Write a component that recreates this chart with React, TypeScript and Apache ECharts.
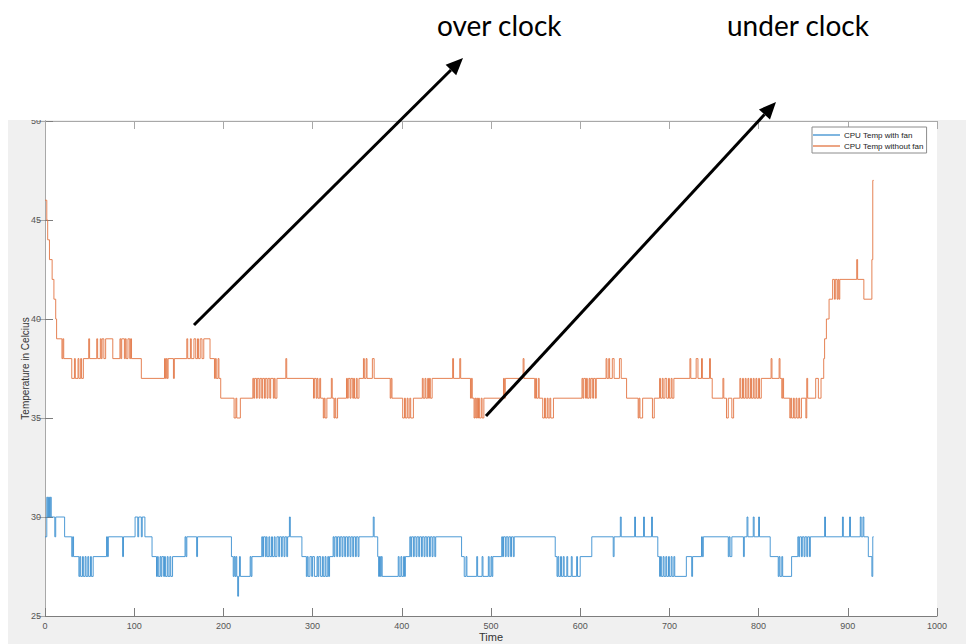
import React, { useEffect, useRef } from "react";
import * as echarts from "echarts";

// Change points [time, temperature] (value holds until the next point)
const withFan: [number, number][] = [
  [0, 29], [2, 31], [3, 30], [4, 31], [5, 30], [6, 31], [7, 30], [11, 29], [12, 30], [22, 29],
  [30, 28], [31, 29], [32, 28], [38, 27], [39, 28], [40, 27], [42, 28], [43, 27], [45, 28], [46, 27],
  [48, 28], [49, 27], [51, 28], [52, 27], [54, 28], [69, 29], [70, 28], [71, 29], [87, 28], [88, 29],
  [101, 30], [104, 29], [105, 30], [108, 29], [109, 30], [112, 29], [120, 28], [125, 27], [126, 28],
  [127, 27], [129, 28], [130, 27], [131, 28], [133, 27], [134, 28], [135, 27], [137, 28], [138, 27],
  [140, 28], [141, 27], [143, 28], [157, 29], [158, 28], [159, 29], [170, 28], [171, 29],
  [209, 28], [211, 27], [212, 28], [213, 27], [214, 28], [215, 27], [216, 26], [217, 27], [218, 28],
  [219, 27], [230, 28], [231, 27], [232, 28],
  [243, 29], [244, 28], [245, 29], [247, 28], [248, 29], [249, 28], [251, 29], [252, 28], [254, 29],
  [255, 28], [257, 29], [258, 28], [260, 29], [262, 28], [263, 29], [265, 28], [266, 29], [268, 28],
  [269, 29], [271, 28], [272, 29], [274, 30], [275, 29], [288, 28],
  [293, 27], [294, 28], [295, 27], [297, 28], [299, 27], [300, 28], [302, 27], [305, 28], [306, 27],
  [307, 28], [309, 27], [311, 28], [312, 27], [314, 28], [315, 27], [317, 28], [318, 27], [319, 28],
  [323, 29], [324, 28], [325, 29], [327, 28], [328, 29], [330, 28], [331, 29], [333, 28], [334, 29],
  [336, 28], [337, 29], [339, 28], [340, 29], [342, 28], [343, 29], [345, 28], [346, 29], [348, 28],
  [349, 29], [351, 28], [352, 29], [368, 30], [369, 29],
  [373, 28], [374, 27], [375, 28], [376, 27], [377, 28], [378, 27], [396, 28], [397, 27], [399, 28],
  [400, 27], [402, 28], [403, 27], [404, 28],
  [409, 29], [410, 28], [411, 29], [413, 28], [414, 29], [416, 28], [417, 29], [419, 28], [420, 29],
  [422, 28], [423, 29], [425, 28], [426, 29], [428, 28], [429, 29], [431, 28], [432, 29], [434, 28],
  [435, 29], [437, 28], [438, 29],
  [467, 28], [470, 27], [472, 28], [473, 27], [484, 28], [485, 27], [490, 28], [491, 27], [497, 28],
  [498, 27], [500, 28], [501, 27], [502, 28],
  [512, 29], [513, 28], [514, 29], [516, 28], [517, 29], [519, 28], [520, 29], [522, 28], [523, 29],
  [525, 28], [526, 29],
  [572, 28], [574, 27], [575, 28], [576, 27], [578, 28], [579, 27], [581, 28], [582, 27], [585, 28],
  [586, 27], [590, 28], [591, 27], [596, 28], [597, 27], [600, 28],
  [613, 29], [637, 28], [638, 29], [645, 30], [646, 29], [661, 30], [662, 29], [671, 30], [672, 29],
  [680, 30], [681, 29],
  [687, 28], [689, 27], [690, 28], [691, 27], [693, 28], [694, 27], [696, 28], [697, 27], [699, 28],
  [700, 27], [702, 28], [703, 27], [705, 28], [706, 27], [719, 28], [725, 27], [726, 28],
  [736, 29], [737, 28], [738, 29], [766, 28], [767, 29], [768, 28], [770, 29], [783, 28], [784, 29],
  [787, 30], [788, 29], [794, 30], [795, 29], [800, 30], [801, 29],
  [813, 28], [822, 27], [823, 28], [824, 27], [826, 28], [827, 27], [837, 28],
  [844, 29], [845, 28], [846, 29], [848, 28], [849, 29], [851, 28], [852, 29], [854, 28], [855, 29],
  [857, 28], [858, 29], [874, 30], [875, 29], [894, 30], [895, 29], [902, 30], [903, 29],
  [914, 30], [915, 29], [917, 30], [918, 29], [923, 28], [927, 27], [928, 29], [929, 29],
];

const withoutFan: [number, number][] = [
  [0, 46], [2, 45], [3, 44], [5, 43], [8, 42], [10, 41], [12, 40], [13, 39], [19, 38], [20, 39],
  [21, 38], [30, 37], [33, 38], [34, 37], [37, 38], [38, 37], [40, 38], [41, 37], [43, 38],
  [49, 39], [50, 38], [58, 39], [59, 38], [62, 39], [63, 38], [64, 39], [66, 38], [68, 39], [76, 38],
  [84, 39], [85, 38], [86, 39], [89, 38], [90, 39], [91, 38], [93, 39], [95, 38], [96, 39], [97, 38],
  [108, 37], [134, 38], [135, 37], [136, 38], [137, 37], [138, 38], [144, 37], [145, 38],
  [159, 39], [160, 38], [163, 39], [164, 38], [167, 39], [169, 38], [171, 39], [172, 38], [174, 39],
  [176, 38], [178, 39], [185, 38], [190, 37], [191, 38], [192, 37], [194, 38], [195, 37], [197, 36],
  [212, 35], [214, 36], [215, 35], [219, 36],
  [233, 37], [234, 36], [235, 37], [237, 36], [238, 37], [240, 36], [241, 37], [243, 36], [244, 37],
  [246, 36], [247, 37], [249, 36], [250, 37], [252, 36], [253, 37], [256, 36], [257, 37], [258, 36],
  [260, 37], [270, 38], [271, 37],
  [301, 36], [302, 37], [304, 36], [305, 37], [306, 36], [308, 37], [309, 36], [312, 35], [313, 36],
  [314, 35], [316, 36], [321, 37], [322, 36], [324, 35], [325, 36], [326, 35], [328, 36],
  [338, 37], [339, 36], [340, 37], [342, 36], [343, 37], [345, 36], [346, 37], [347, 36], [349, 37],
  [350, 36], [352, 37], [357, 38], [358, 37], [360, 38], [361, 37], [367, 38], [369, 37],
  [387, 36], [388, 37], [389, 36], [401, 35], [403, 36], [404, 35], [406, 36], [407, 35], [409, 36],
  [410, 35], [413, 36], [423, 37], [424, 36], [426, 37], [427, 36], [429, 37], [430, 36], [431, 37],
  [432, 36], [434, 37], [457, 38], [458, 37], [465, 38], [466, 37],
  [477, 36], [478, 37], [479, 36], [481, 35], [482, 36], [483, 35], [484, 36], [485, 35], [486, 36],
  [487, 35], [489, 36], [490, 35], [492, 36], [514, 37], [515, 36], [516, 37], [536, 38], [537, 37],
  [549, 36], [550, 37], [551, 36], [553, 37], [554, 36], [558, 35], [560, 36], [561, 35], [563, 36],
  [564, 35], [566, 36], [567, 35], [570, 36],
  [602, 37], [603, 36], [604, 37], [606, 36], [607, 37], [608, 36], [610, 37], [611, 36], [612, 37],
  [614, 36], [615, 37], [617, 36], [618, 37], [629, 38], [630, 37], [632, 38], [633, 37], [636, 38],
  [638, 37], [644, 38], [646, 37], [652, 36], [665, 35], [666, 36], [667, 35], [670, 36], [681, 35],
  [683, 36], [689, 37], [690, 36], [692, 37], [693, 36], [695, 37], [697, 36], [699, 37], [700, 36],
  [702, 37], [703, 36], [705, 37], [723, 38], [724, 37], [730, 38], [732, 37], [736, 38], [737, 37],
  [745, 38], [746, 37], [748, 36], [760, 37], [761, 36], [764, 35], [766, 36], [770, 35], [772, 36],
  [779, 37], [780, 36], [782, 37], [783, 36], [785, 37], [786, 36], [788, 37], [789, 36], [791, 37],
  [792, 36], [794, 37], [795, 36], [797, 37], [798, 36], [800, 37], [801, 36], [803, 37],
  [814, 38], [815, 37], [823, 38], [824, 37], [826, 36], [827, 37], [828, 36], [835, 35], [836, 36],
  [837, 35], [839, 36], [840, 35], [842, 36], [843, 35], [845, 36], [846, 35], [848, 36], [853, 35],
  [854, 37], [855, 36], [864, 37], [867, 36], [870, 37], [873, 38], [874, 39], [876, 40], [879, 41],
  [883, 42], [885, 41], [886, 42], [888, 41], [889, 42], [890, 41], [891, 42], [910, 43], [911, 42],
  [918, 41], [927, 43], [928, 47], [929, 47],
];

const xTicks = { min: 0, max: 1000, interval: 100 };
const yTicks = { min: 25, max: 50, interval: 5 };
const seriesNames = ["CPU Temp with fan", "CPU Temp without fan"];
const annotations = ["over clock", "under clock"];

function arrow(x1: number, y1: number, x2: number, y2: number) {
  const dx = x2 - x1, dy = y2 - y1;
  const len = Math.sqrt(dx * dx + dy * dy);
  const ux = dx / len, uy = dy / len;
  const hl = 17, hw = 7.5;
  const bx = x2 - ux * hl, by = y2 - uy * hl;
  return [
    { type: "line", z: 101, shape: { x1, y1, x2: bx, y2: by }, style: { stroke: "#000", lineWidth: 3 } },
    {
      type: "polygon", z: 101,
      shape: { points: [[x2, y2], [bx - uy * hw, by + ux * hw], [bx + uy * hw, by - ux * hw]] },
      style: { fill: "#000" },
    },
  ];
}

export default function App() {
  const ref = useRef<HTMLDivElement>(null);
  useEffect(() => {
    if (!ref.current) return;
    const chart = echarts.init(ref.current, null, { renderer: "svg" });
    const axisColor = "#7d7d7d";
    const labelColor = "#555";
    const font = "Liberation Sans, Arial, sans-serif";
    chart.setOption({
      animation: false,
      backgroundColor: "#ffffff",
      textStyle: { fontFamily: font },
      grid: {
        left: 45, top: 121, width: 892, height: 495, show: true, backgroundColor: "#ffffff", borderWidth: 0,
        containLabel: false, outerBoundsMode: "none",
      },
      legend: {
        data: seriesNames,
        orient: "vertical",
        left: 812,
        top: 127,
        backgroundColor: "#ffffff",
        borderColor: "#8c8c8c",
        borderWidth: 1,
        padding: [4, 3, 3, 1],
        itemGap: 3,
        itemWidth: 27,
        itemHeight: 1.3,
        icon: "rect",
        textStyle: { fontSize: 8, color: "#222", fontFamily: font, padding: [0, 0, 0, -1] },
      },
      xAxis: [
        {
          type: "value", ...xTicks, name: "Time", nameLocation: "middle", nameGap: 15, nameMoveOverlap: false,
          nameTextStyle: { fontSize: 11, color: "#333" },
          axisLine: { lineStyle: { color: axisColor } },
          axisTick: { inside: true, length: 8, lineStyle: { color: axisColor } },
          axisLabel: { color: labelColor, fontSize: 9, margin: 5, formatter: (v: number) => String(v) },
          splitLine: { show: false },
        },
        {
          type: "value", ...xTicks, position: "top",
          axisLine: { lineStyle: { color: "#a8a8a8" } },
          axisTick: { inside: true, length: 8, lineStyle: { color: "#a8a8a8" } },
          axisLabel: { show: false },
          splitLine: { show: false },
        },
      ],
      yAxis: [
        {
          type: "value", ...yTicks, name: "Temperature in Celcius", nameLocation: "middle", nameGap: 15,
          nameMoveOverlap: false,
          nameTextStyle: { fontSize: 10, color: "#333" },
          axisLine: { lineStyle: { color: axisColor } },
          axisTick: { inside: true, length: 8, lineStyle: { color: axisColor } },
          axisLabel: { color: labelColor, fontSize: 9, margin: 4 },
          splitLine: { show: false },
        },
        {
          type: "value", ...yTicks, position: "right",
          axisLine: { lineStyle: { color: "#a8a8a8" } },
          axisTick: { inside: true, length: 8, lineStyle: { color: "#a8a8a8" } },
          axisLabel: { show: false },
          splitLine: { show: false },
        },
      ],
      series: [
        {
          name: seriesNames[0], type: "line", step: "end", data: withFan, symbol: "none",
          lineStyle: { color: "#3a8fd0", width: 0.9 }, itemStyle: { color: "#3a8fd0" },
        },
        {
          name: seriesNames[1], type: "line", step: "end", data: withoutFan, symbol: "none",
          lineStyle: { color: "#e27442", width: 0.9 }, itemStyle: { color: "#e27442" },
        },
      ],
      graphic: [
        { type: "rect", z: -10, silent: true, shape: { x: 8, y: 120, width: 958, height: 524 }, style: { fill: "#f0f0f0" } },
        { type: "rect", z: 100, silent: true, shape: { x: 0, y: 0, width: 966, height: 120 }, style: { fill: "#ffffff" } },
        {
          type: "text", z: 101, x: 437, y: 25,
          style: { text: annotations[0], fontSize: 28, fontFamily: "Lato, sans-serif", fill: "#000", verticalAlign: "middle" },
        },
        {
          type: "text", z: 101, x: 727, y: 25,
          style: { text: annotations[1], fontSize: 28, fontFamily: "Lato, sans-serif", fill: "#000", verticalAlign: "middle" },
        },
        ...arrow(194, 325, 463, 58),
        ...arrow(486, 416, 776, 102),
      ],
    });
    return () => chart.dispose();
  }, []);
  return <div ref={ref} style={{ position: "fixed", left: 0, top: 0, width: 966, height: 644 }} />;
}
